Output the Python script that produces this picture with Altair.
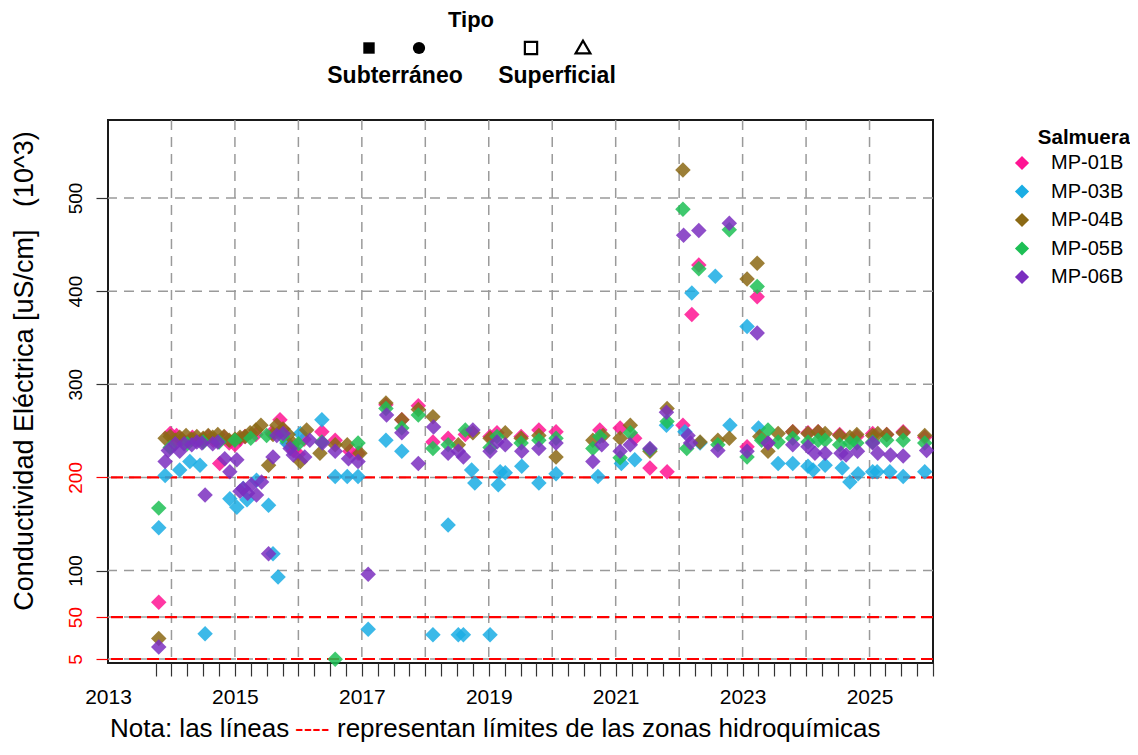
import altair as alt
import pandas as pd

FONT = "Liberation Sans"

series = ["MP-01B", "MP-03B", "MP-04B", "MP-05B", "MP-06B"]
colors = ["#FF1493", "#1AADE4", "#8B6914", "#1DBF55", "#7B2FBF"]

mp01_year = [2013.80, 2013.98, 2014.08, 2014.16, 2014.33, 2014.50, 2014.58, 2014.66, 2014.76, 2014.83,
             2014.91, 2015.00, 2015.08, 2015.16, 2015.33, 2015.58, 2015.71, 2015.75, 2015.84, 2015.92,
             2016.00, 2016.09, 2016.37, 2016.58, 2016.81, 2016.94, 2017.38, 2017.63, 2017.89, 2018.12,
             2018.36, 2018.63, 2019.02, 2019.13, 2019.51, 2019.79, 2020.06, 2020.75, 2021.07, 2021.30,
             2021.54, 2021.81, 2022.06, 2022.20, 2022.31, 2023.07, 2023.23, 2023.40, 2023.79, 2024.03,
             2024.19, 2024.53, 2024.80, 2025.05, 2025.27, 2025.53, 2025.87]
mp01_val = [66, 247, 245, 241, 243, 241, 244, 240, 215, 243,
            237, 235, 241, 244, 246, 248, 262, 252, 236, 229,
            225, 241, 249, 240, 228, 226, 278, 262, 277, 238,
            242, 246, 244, 248, 244, 251, 249, 251, 253, 242,
            210, 206, 256, 375, 428, 233, 394, 237, 249, 248,
            249, 246, 244, 247, 246, 249, 243]

mp03_year = [2013.80, 2013.90, 2014.13, 2014.29, 2014.45, 2014.53, 2014.92, 2015.03, 2015.13, 2015.19,
             2015.34, 2015.53, 2015.60, 2015.68, 2015.82, 2016.03, 2016.37, 2016.58, 2016.77, 2016.94,
             2017.10, 2017.38, 2017.63, 2018.12, 2018.36, 2018.52, 2018.60, 2018.73, 2018.78, 2019.02,
             2019.15, 2019.18, 2019.26, 2019.52, 2019.79, 2020.06, 2020.72, 2021.09, 2021.30, 2021.80,
             2022.09, 2022.20, 2022.33, 2022.57, 2022.80, 2023.07, 2023.25, 2023.56, 2023.79, 2024.03,
             2024.11, 2024.30, 2024.57, 2024.69, 2024.82, 2025.05, 2025.12, 2025.32, 2025.53, 2025.87]
mp03_val = [146, 202, 208, 217, 213, 32, 177, 168, 188, 176,
            197, 170, 118, 93, 237, 247, 262, 201, 201, 201,
            37, 240, 228, 31, 149, 31, 31, 208, 194, 31,
            192, 206, 205, 212, 194, 204, 201, 215, 219, 256,
            249, 398, 237, 416, 256, 362, 253, 215, 215, 212,
            208, 213, 210, 195, 204, 206, 206, 206, 201, 206]

mp04_year = [2013.80, 2013.90, 2013.98, 2014.06, 2014.13, 2014.23, 2014.32, 2014.40, 2014.50, 2014.58,
             2014.65, 2014.73, 2014.83, 2014.91, 2015.00, 2015.08, 2015.16, 2015.24, 2015.33, 2015.41,
             2015.53, 2015.60, 2015.66, 2015.76, 2015.84, 2015.92, 2016.03, 2016.13, 2016.34, 2016.58,
             2016.77, 2016.97, 2017.38, 2017.63, 2017.89, 2018.12, 2018.52, 2018.75, 2019.02, 2019.26,
             2019.51, 2019.79, 2020.06, 2020.64, 2020.80, 2021.07, 2021.23, 2021.54, 2021.81, 2022.06,
             2022.33, 2022.61, 2022.79, 2023.07, 2023.23, 2023.27, 2023.40, 2023.56, 2023.79, 2024.03,
             2024.19, 2024.30, 2024.53, 2024.69, 2024.80, 2025.05, 2025.13, 2025.27, 2025.53, 2025.87]
mp04_val = [27, 242, 244, 240, 243, 245, 241, 244, 242, 245,
            243, 246, 244, 240, 241, 243, 244, 248, 251, 256,
            213, 246, 256, 252, 246, 236, 217, 251, 226, 235,
            235, 226, 280, 262, 273, 265, 235, 248, 242, 248,
            242, 245, 222, 240, 245, 242, 256, 228, 274, 530,
            238, 240, 242, 413, 430, 244, 228, 247, 249, 247,
            249, 247, 245, 243, 246, 245, 247, 246, 248, 245]

mp05_year = [2013.80, 2013.98, 2014.25, 2014.50, 2014.75, 2015.00, 2015.25, 2015.50, 2015.75, 2016.00,
             2016.37, 2016.58, 2016.94, 2017.38, 2017.63, 2017.89, 2018.12, 2018.36, 2018.63, 2019.02,
             2019.13, 2019.51, 2019.79, 2020.06, 2020.64, 2020.75, 2021.07, 2021.23, 2021.54, 2021.81,
             2022.06, 2022.12, 2022.31, 2022.61, 2022.79, 2023.07, 2023.23, 2023.30, 2023.40, 2023.56,
             2023.79, 2024.03, 2024.19, 2024.30, 2024.53, 2024.69, 2024.80, 2025.05, 2025.27, 2025.53,
             2025.87]
mp05_val = [167, 232, 236, 238, 238, 240, 242, 245, 244, 236,
            238, 4.7, 237, 274, 253, 267, 231, 235, 251, 232,
            244, 237, 240, 242, 231, 244, 221, 248, 230, 260,
            488, 231, 424, 235, 466, 222, 405, 240, 251, 238,
            242, 238, 240, 240, 235, 237, 237, 238, 240, 240,
            237]

mp06_year = [2013.80, 2013.90, 2013.95, 2014.06, 2014.13, 2014.20, 2014.32, 2014.40, 2014.48, 2014.53,
             2014.65, 2014.73, 2014.84, 2014.92, 2015.03, 2015.08, 2015.13, 2015.20, 2015.26, 2015.34,
             2015.42, 2015.53, 2015.60, 2015.66, 2015.76, 2015.87, 2015.92, 2016.10, 2016.18, 2016.38,
             2016.58, 2016.79, 2016.94, 2017.10, 2017.39, 2017.63, 2017.89, 2018.13, 2018.36, 2018.52,
             2018.60, 2018.75, 2019.02, 2019.13, 2019.26, 2019.52, 2019.79, 2020.06, 2020.64, 2020.78,
             2021.07, 2021.23, 2021.54, 2021.80, 2022.07, 2022.14, 2022.18, 2022.31, 2022.61, 2022.79,
             2023.07, 2023.23, 2023.40, 2023.79, 2024.03, 2024.14, 2024.30, 2024.55, 2024.63, 2024.81,
             2025.05, 2025.13, 2025.33, 2025.53, 2025.90]
mp06_val = [18, 217, 229, 236, 228, 236, 235, 238, 237, 181,
            236, 238, 220, 206, 219, 185, 188, 183, 192, 181,
            195, 118, 222, 245, 247, 231, 224, 222, 240, 237,
            228, 220, 217, 96, 267, 248, 215, 254, 226, 228,
            222, 251, 228, 238, 235, 228, 231, 237, 217, 235,
            228, 235, 231, 270, 460, 245, 237, 465, 229, 473,
            228, 355, 237, 235, 233, 226, 226, 226, 224, 228,
            237, 226, 224, 223, 229]

grid_years = [2014, 2015, 2016, 2017, 2018, 2019, 2020, 2021, 2022, 2023, 2024, 2025]
grid_values = [5, 50, 100, 200, 300, 400, 500]
limit_values = [5, 50, 200]
y_tick_values = [5, 50, 100, 200, 300, 400, 500]
x_tick_values = [2013] + [2013.75 + 0.25 * i for i in range(50)]

rows = []
for name, ys, vs in [("MP-01B", mp01_year, mp01_val), ("MP-03B", mp03_year, mp03_val),
                     ("MP-04B", mp04_year, mp04_val), ("MP-05B", mp05_year, mp05_val),
                     ("MP-06B", mp06_year, mp06_val)]:
    assert len(ys) == len(vs), name
    for yy, vv in zip(ys, vs):
        rows.append({"year": yy, "value": vv, "Salmuera": name})
df = pd.DataFrame(rows)

x_scale = alt.Scale(domain=[2013, 2026], nice=False, zero=False)
y_scale = alt.Scale(domain=[0.7, 583.75], nice=False, zero=False)

x_axis = alt.Axis(
    values=x_tick_values,
    labelExpr="(datum.value % 2 == 1 && datum.value == floor(datum.value)) ? format(datum.value, 'd') : ''",
    labelFlush=False, labelOverlap=False, labelBound=False,
    grid=False, domain=False, tickSize=13, tickColor="#333333", tickWidth=1.2,
    tickOpacity={"condition": {"test": "datum.value < 2013.5", "value": 0}, "value": 1},
    labelFontSize=21, labelPadding=10, labelColor="black", labelFont=FONT, title=None,
)
red_test = "datum.value == 5 || datum.value == 50 || datum.value == 200"
y_axis = alt.Axis(
    values=y_tick_values, labelAngle=270, labelAlign="center", labelBaseline="bottom",
    grid=False, domain=False, tickSize=12, tickWidth=1.2,
    tickColor={"condition": {"test": red_test, "value": "#FF0000"}, "value": "#333333"},
    labelColor={"condition": {"test": red_test, "value": "#FF0000"}, "value": "black"},
    labelFontSize=19, labelPadding=11, labelFont=FONT, title=None, labelOverlap=False,
)

X = alt.X("year:Q", scale=x_scale, axis=x_axis)
Y = alt.Y("value:Q", scale=y_scale, axis=y_axis)

vgrid = alt.Chart(pd.DataFrame({"year": grid_years})).mark_rule(
    color="#9A9A9A", strokeDash=[10, 7], strokeWidth=1.5).encode(x=X)
hgrid = alt.Chart(pd.DataFrame({"value": grid_values})).mark_rule(
    color="#9A9A9A", strokeDash=[10, 7], strokeWidth=1.5).encode(y=Y)
limits = alt.Chart(pd.DataFrame({"value": limit_values})).mark_rule(
    color="#FF0000", strokeDash=[12, 6], strokeWidth=2.2).encode(y=Y)

points = alt.Chart(df).mark_point(shape="diamond", filled=True, size=240, opacity=0.85, strokeWidth=0).encode(
    x=X, y=Y,
    color=alt.Color("Salmuera:N", scale=alt.Scale(domain=series, range=colors),
                    legend=alt.Legend(title=None, orient="none", legendX=904, legendY=33, padding=0,
                                      symbolType="diamond", symbolSize=200, symbolOpacity=1,
                                      symbolStrokeWidth=0, labelFontSize=20, labelFont=FONT,
                                      labelColor="black", rowPadding=8.5, labelOffset=19)),
)


def txt(text, x, y, size, weight="normal", color="black", align="center", baseline="middle", angle=0):
    return alt.Chart(pd.DataFrame({"t": [text]})).mark_text(
        text=text, fontSize=size, fontWeight=weight, color=color, align=align,
        baseline=baseline, angle=angle, font=FONT).encode(x=alt.value(x), y=alt.value(y))


def sym(shape, x, y, size, filled):
    return alt.Chart(pd.DataFrame({"t": [shape]})).mark_point(
        shape=shape, size=size, filled=filled, color="black", opacity=1,
        strokeWidth=2.2).encode(x=alt.value(x), y=alt.value(y))


ytitle = txt("Conductividad Eléctrica [uS/cm]\u00a0\u00a0\u00a0(10^3)", -83, 251, 27, angle=270)
tipo = txt("Tipo", 363, -100, 22, weight="bold")
sub = txt("Subterráneo", 287, -44, 23, weight="bold")
sup = txt("Superficial", 449, -44, 23, weight="bold")
salm = txt("Salmuera", 976, 18, 20.5, weight="bold")
note1 = txt("Nota: las líneas", 2, 617, 26, align="left", baseline="alphabetic")
note2 = txt("----", 187, 617, 26, color="#FF0000", align="left", baseline="alphabetic")
note3 = txt("representan límites de las zonas hidroquímicas", 229, 617, 26, align="left", baseline="alphabetic")

s1 = sym("square", 261, -72, 130, True)
s2 = sym("circle", 311, -72, 150, True)
s3 = sym("square", 423, -72, 150, False)
s4 = sym("triangle-up", 475, -73, 220, False)

chart = alt.layer(
    vgrid, hgrid, limits, points,
    ytitle, tipo, sub, sup, salm, note1, note2, note3, s1, s2, s3, s4,
).properties(
    width=825, height=543,
    autosize=alt.AutoSizeParams(type="none"),
    padding={"left": 100, "top": 112, "right": 197, "bottom": 80},
    background="white",
).configure(font=FONT).configure_view(stroke="#1a1a1a", strokeWidth=2)

chart.save("out.html", embed_options={"renderer": "svg", "actions": False})
